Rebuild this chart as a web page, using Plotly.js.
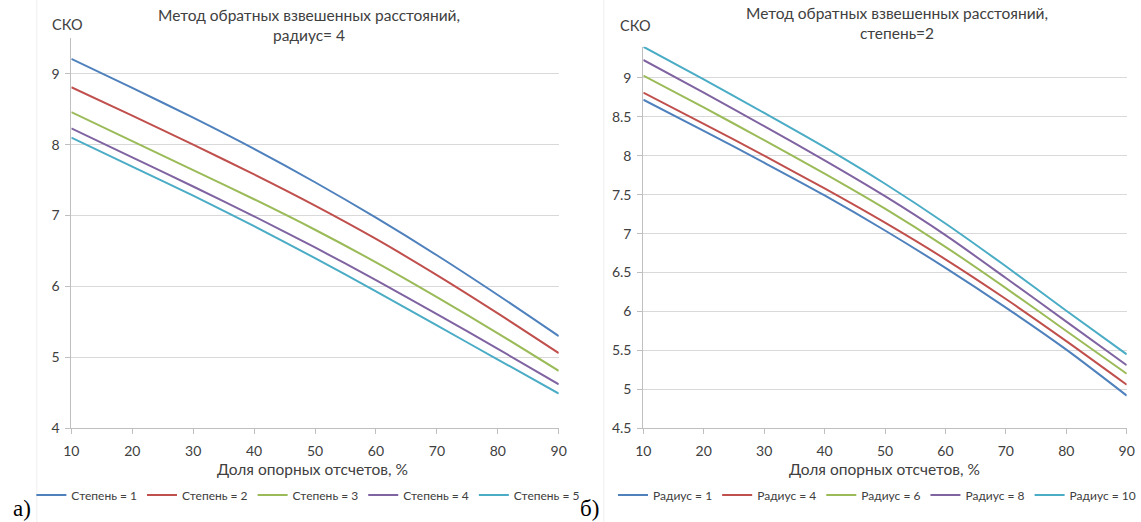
<!DOCTYPE html>
<html>
<head>
<meta charset="utf-8">
<script src="https://cdn.plot.ly/plotly-3.0.1.min.js"></script>
<style>html,body{margin:0;padding:0;background:#fff;}#chart{width:1141px;height:522px;}</style>
</head>
<body>
<div id="chart"></div>
<script>
// Shared x: доля опорных отсчетов, %
const shareX = [10, 20, 30, 40, 50, 60, 70, 80, 90];

// Left chart (a): radius = 4, various powers
const leftNames = ["Степень = 1", "Степень = 2", "Степень = 3", "Степень = 4", "Степень = 5"];
const power1 = [9.21, 8.80, 8.38, 7.94, 7.47, 6.97, 6.44, 5.88, 5.30];
const power2 = [8.81, 8.41, 8.00, 7.58, 7.14, 6.67, 6.16, 5.62, 5.06];
const power3 = [8.46, 8.05, 7.64, 7.23, 6.80, 6.34, 5.85, 5.34, 4.81];
const power4 = [8.23, 7.82, 7.41, 6.99, 6.55, 6.09, 5.61, 5.12, 4.62];
const power5 = [8.10, 7.69, 7.28, 6.85, 6.40, 5.93, 5.45, 4.97, 4.49];

// Right chart (b): power = 2, various radii
const rightNames = ["Радиус = 1", "Радиус = 4", "Радиус = 6", "Радиус = 8", "Радиус = 10"];
const radius1 = [8.72, 8.32, 7.91, 7.49, 7.04, 6.56, 6.05, 5.51, 4.92];
const radius4 = [8.81, 8.41, 8.00, 7.58, 7.14, 6.67, 6.16, 5.62, 5.06];
const radius6 = [9.03, 8.62, 8.20, 7.77, 7.32, 6.83, 6.30, 5.75, 5.20];
const radius8 = [9.23, 8.81, 8.38, 7.94, 7.48, 6.98, 6.43, 5.87, 5.31];
const radius10 = [9.40, 8.98, 8.55, 8.11, 7.64, 7.13, 6.58, 6.01, 5.45];

const xTicks = [10, 20, 30, 40, 50, 60, 70, 80, 90];
const leftYTicks = [4, 5, 6, 7, 8, 9];
const rightYTicks = [4.5, 5, 5.5, 6, 6.5, 7, 7.5, 8, 8.5, 9];

const colors = ["#4F81BD", "#C0504D", "#9BBB59", "#8064A2", "#4BACC6"];
const FONT = "Lato, 'Open Sans', 'DejaVu Sans', sans-serif";
const TXT = "#404040";

const leftSeries = [power1, power2, power3, power4, power5];
const rightSeries = [radius1, radius4, radius6, radius8, radius10];

const traces = [];
leftSeries.forEach((ys, i) => traces.push({
  x: shareX, y: ys, name: leftNames[i], type: "scatter", mode: "lines",
  line: {color: colors[i], width: 2, shape: "spline", smoothing: 0.8},
  xaxis: "x", yaxis: "y", legend: "legend"
}));
rightSeries.forEach((ys, i) => traces.push({
  x: shareX, y: ys, name: rightNames[i], type: "scatter", mode: "lines",
  line: {color: colors[i], width: 2, shape: "spline", smoothing: 0.8},
  xaxis: "x2", yaxis: "y2", legend: "legend2"
}));

const W = 1141, H = 522;
const px = v => v / W, py = v => 1 - v / H;

function xAxis(domain, anchor) {
  return {
    domain: domain, anchor: anchor, range: [10, 90], tickvals: xTicks,
    showgrid: false, zeroline: false, showline: true, linecolor: "#BFBFBF", linewidth: 1,
    ticks: "outside", ticklen: 5, tickcolor: "#BFBFBF", ticklabelstandoff: 5,
    tickfont: {family: FONT, size: 14, color: TXT}, fixedrange: true
  };
}
function yAxis(domain, anchor, range, ticks) {
  return {
    domain: domain, anchor: anchor, range: range, tickvals: ticks,
    showgrid: true, gridcolor: "#D9D9D9", gridwidth: 1, zeroline: false,
    showline: true, linecolor: "#BFBFBF", linewidth: 1,
    ticks: "outside", ticklen: 5, tickcolor: "#BFBFBF", ticklabelstandoff: 3,
    tickfont: {family: FONT, size: 14, color: TXT}, fixedrange: true
  };
}

const legendBase = {
  orientation: "h", xanchor: "center", yanchor: "middle", y: py(495),
  font: {family: FONT, size: 12, color: TXT}, bgcolor: "rgba(0,0,0,0)",
  itemwidth: 30, tracegroupgap: 0
};

const ann = (text, x, y, size, opts) => Object.assign({
  text: text, x: px(x), y: py(y), xref: "paper", yref: "paper",
  showarrow: false, font: {family: FONT, size: size, color: TXT},
  xanchor: "center", yanchor: "middle"
}, opts || {});

const layout = {
  width: W, height: H, margin: {l: 0, r: 0, t: 0, b: 0},
  paper_bgcolor: "#fff", plot_bgcolor: "#fff", showlegend: true,
  xaxis: xAxis([px(71.7), px(561.7)], "y"),
  yaxis: yAxis([py(428.3), py(38.3)], "x", [4, 9.5], leftYTicks),
  xaxis2: xAxis([px(646.7), px(1132.7)], "y2"),
  yaxis2: yAxis([py(428.3), py(46.7)], "x2", [4.5, 9.4], rightYTicks),
  legend: Object.assign({}, legendBase, {x: px(310)}),
  legend2: Object.assign({}, legendBase, {x: px(882)}),
  annotations: [
    ann("СКО", 68, 25, 14.5),
    ann("Метод обратных взвешенных расстояний,<br>радиус= 4", 311, 25, 15.5),
    ann("Доля опорных отсчетов, %", 314, 469, 15.5),
    ann("СКО", 639, 26, 14.5),
    ann("Метод обратных взвешенных расстояний,<br>степень=2", 902, 23, 15.5),
    ann("Доля опорных отсчетов, %", 889, 469, 15.5),
    ann("а)", 11, 508, 23, {xanchor: "left", font: {family: "'Liberation Serif', serif", size: 23, color: "#000"}}),
    ann("б)", 581, 508, 23, {xanchor: "left", font: {family: "'Liberation Serif', serif", size: 23, color: "#000"}})
  ],
  shapes: [
    {type: "line", xref: "paper", yref: "paper", x0: px(37), x1: px(37), y0: 0, y1: 1, line: {color: "#EFEFEF", width: 1}},
    {type: "line", xref: "paper", yref: "paper", x0: px(607), x1: px(607), y0: 0, y1: 1, line: {color: "#EFEFEF", width: 1}}
  ]
};

Plotly.newPlot("chart", traces, layout, {displayModeBar: false, staticPlot: true});
</script>
</body>
</html>
